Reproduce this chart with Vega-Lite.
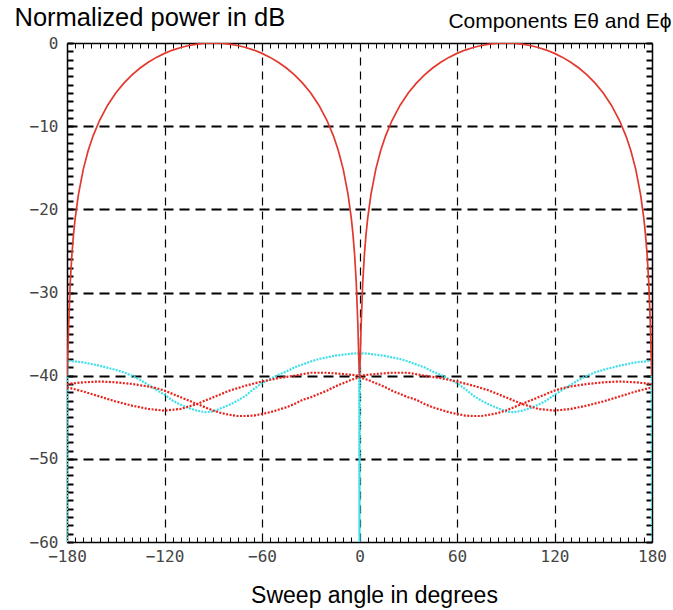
{
  "$schema": "https://vega.github.io/schema/vega-lite/v6.json",
  "width": 585,
  "height": 499,
  "autosize": {"type": "none"},
  "padding": {"left": 67, "top": 43, "right": 21, "bottom": 68},
  "background": "white",
  "config": {"view": {"stroke": "black", "strokeWidth": 1}},
  "datasets": {
    "ephi": [
      {"a": -180, "v": -60}, {"a": -179.7, "v": -38.2}, {"a": -170, "v": -38.4}, {"a": -160, "v": -38.8}, {"a": -150, "v": -39.3}, {"a": -145, "v": -39.6}, {"a": -140, "v": -40.0}, {"a": -135, "v": -40.5}, {"a": -130, "v": -41.1}, {"a": -125, "v": -41.7}, {"a": -120, "v": -42.3}, {"a": -115, "v": -43.0}, {"a": -110, "v": -43.5}, {"a": -105, "v": -43.9}, {"a": -100, "v": -44.2}, {"a": -95, "v": -44.4}, {"a": -90, "v": -44.3}, {"a": -85, "v": -43.9}, {"a": -80, "v": -43.5}, {"a": -75, "v": -43.0}, {"a": -70, "v": -42.4}, {"a": -65, "v": -41.6}, {"a": -60, "v": -40.9}, {"a": -55, "v": -40.4}, {"a": -50, "v": -39.9}, {"a": -45, "v": -39.5}, {"a": -40, "v": -39.0}, {"a": -30, "v": -38.3}, {"a": -25, "v": -38.0}, {"a": -15, "v": -37.6}, {"a": -5, "v": -37.35}, {"a": -0.3, "v": -37.3}, {"a": 0, "v": -60},
      {"a": 0.3, "v": -37.3}, {"a": 5, "v": -37.35}, {"a": 15, "v": -37.6}, {"a": 25, "v": -38.0}, {"a": 30, "v": -38.3}, {"a": 40, "v": -39.0}, {"a": 45, "v": -39.5}, {"a": 50, "v": -39.9}, {"a": 55, "v": -40.4}, {"a": 60, "v": -40.9}, {"a": 65, "v": -41.6}, {"a": 70, "v": -42.4}, {"a": 75, "v": -43.0}, {"a": 80, "v": -43.5}, {"a": 85, "v": -43.9}, {"a": 90, "v": -44.3}, {"a": 95, "v": -44.4}, {"a": 100, "v": -44.2}, {"a": 105, "v": -43.9}, {"a": 110, "v": -43.5}, {"a": 115, "v": -43.0}, {"a": 120, "v": -42.3}, {"a": 125, "v": -41.7}, {"a": 130, "v": -41.1}, {"a": 135, "v": -40.5}, {"a": 140, "v": -40.0}, {"a": 145, "v": -39.6}, {"a": 150, "v": -39.3}, {"a": 160, "v": -38.8}, {"a": 170, "v": -38.4}, {"a": 179.7, "v": -38.2}, {"a": 180, "v": -60}
    ],
    "d1": [
      {"a": -180, "v": -41.0}, {"a": -170, "v": -40.8}, {"a": -160, "v": -40.7}, {"a": -150, "v": -40.8}, {"a": -140, "v": -41.0}, {"a": -130, "v": -41.3}, {"a": -125, "v": -41.5}, {"a": -120, "v": -41.8}, {"a": -115, "v": -42.2}, {"a": -110, "v": -42.6}, {"a": -105, "v": -43.0}, {"a": -100, "v": -43.4}, {"a": -95, "v": -43.8}, {"a": -90, "v": -44.2}, {"a": -85, "v": -44.5}, {"a": -80, "v": -44.7}, {"a": -75, "v": -44.85}, {"a": -70, "v": -44.85}, {"a": -65, "v": -44.8}, {"a": -60, "v": -44.6}, {"a": -55, "v": -44.4}, {"a": -50, "v": -44.1}, {"a": -45, "v": -43.8}, {"a": -40, "v": -43.4}, {"a": -35, "v": -42.9}, {"a": -30, "v": -42.6}, {"a": -25, "v": -42.2}, {"a": -20, "v": -41.8}, {"a": -15, "v": -41.3}, {"a": -10, "v": -40.9}, {"a": -5, "v": -40.5}, {"a": 0, "v": -40.2},
      {"a": 5, "v": -40.5}, {"a": 10, "v": -40.9}, {"a": 15, "v": -41.3}, {"a": 20, "v": -41.8}, {"a": 25, "v": -42.2}, {"a": 30, "v": -42.6}, {"a": 35, "v": -42.9}, {"a": 40, "v": -43.4}, {"a": 45, "v": -43.8}, {"a": 50, "v": -44.1}, {"a": 55, "v": -44.4}, {"a": 60, "v": -44.6}, {"a": 65, "v": -44.8}, {"a": 70, "v": -44.85}, {"a": 75, "v": -44.85}, {"a": 80, "v": -44.7}, {"a": 85, "v": -44.5}, {"a": 90, "v": -44.2}, {"a": 95, "v": -43.8}, {"a": 100, "v": -43.4}, {"a": 105, "v": -43.0}, {"a": 110, "v": -42.6}, {"a": 115, "v": -42.2}, {"a": 120, "v": -41.8}, {"a": 125, "v": -41.5}, {"a": 130, "v": -41.3}, {"a": 140, "v": -41.0}, {"a": 150, "v": -40.8}, {"a": 160, "v": -40.7}, {"a": 170, "v": -40.8}, {"a": 180, "v": -41.0}
    ],
    "d2": [
      {"a": -180, "v": -41.4}, {"a": -170, "v": -41.9}, {"a": -160, "v": -42.5}, {"a": -150, "v": -43.1}, {"a": -140, "v": -43.6}, {"a": -130, "v": -44.0}, {"a": -120, "v": -44.2}, {"a": -110, "v": -44.0}, {"a": -100, "v": -43.4}, {"a": -90, "v": -42.6}, {"a": -80, "v": -41.8}, {"a": -70, "v": -41.2}, {"a": -60, "v": -40.7}, {"a": -50, "v": -40.3}, {"a": -40, "v": -40.0}, {"a": -30, "v": -39.65}, {"a": -20, "v": -39.65}, {"a": -10, "v": -39.8}, {"a": 0, "v": -40.0},
      {"a": 10, "v": -39.8}, {"a": 20, "v": -39.65}, {"a": 30, "v": -39.65}, {"a": 40, "v": -40.0}, {"a": 50, "v": -40.3}, {"a": 60, "v": -40.7}, {"a": 70, "v": -41.2}, {"a": 80, "v": -41.8}, {"a": 90, "v": -42.6}, {"a": 100, "v": -43.4}, {"a": 110, "v": -44.0}, {"a": 120, "v": -44.2}, {"a": 130, "v": -44.0}, {"a": 140, "v": -43.6}, {"a": 150, "v": -43.1}, {"a": 160, "v": -42.5}, {"a": 170, "v": -41.9}, {"a": 180, "v": -41.4}
    ],
    "eth": [
      {"a": -180, "v": -40}, {"a": -179.5, "v": -37.54}, {"a": -179, "v": -33.93}, {"a": -178, "v": -28.8}, {"a": -177, "v": -25.47}, {"a": -176, "v": -23.04}, {"a": -175, "v": -21.14}, {"a": -173, "v": -18.25}, {"a": -170, "v": -15.19}, {"a": -167, "v": -12.95}, {"a": -164, "v": -11.19}, {"a": -160, "v": -9.32}, {"a": -155, "v": -7.48}, {"a": -150, "v": -6.02}, {"a": -145, "v": -4.83}, {"a": -140, "v": -3.84}, {"a": -135, "v": -3.01}, {"a": -130, "v": -2.31}, {"a": -125, "v": -1.73}, {"a": -120, "v": -1.25}, {"a": -115, "v": -0.85}, {"a": -110, "v": -0.54}, {"a": -105, "v": -0.3}, {"a": -100, "v": -0.13}, {"a": -95, "v": -0.03}, {"a": -90, "v": 0}, {"a": -85, "v": -0.03}, {"a": -80, "v": -0.13}, {"a": -75, "v": -0.3}, {"a": -70, "v": -0.54}, {"a": -65, "v": -0.85}, {"a": -60, "v": -1.25}, {"a": -55, "v": -1.73}, {"a": -50, "v": -2.31}, {"a": -45, "v": -3.01}, {"a": -40, "v": -3.84}, {"a": -35, "v": -4.83}, {"a": -30, "v": -6.02}, {"a": -25, "v": -7.48}, {"a": -20, "v": -9.32}, {"a": -16, "v": -11.19}, {"a": -13, "v": -12.95}, {"a": -10, "v": -15.19}, {"a": -7, "v": -18.25}, {"a": -5, "v": -21.14}, {"a": -4, "v": -23.04}, {"a": -3, "v": -25.47}, {"a": -2, "v": -28.8}, {"a": -1, "v": -33.93}, {"a": -0.5, "v": -37.54}, {"a": 0, "v": -40},
      {"a": 0.5, "v": -37.54}, {"a": 1, "v": -33.93}, {"a": 2, "v": -28.8}, {"a": 3, "v": -25.47}, {"a": 4, "v": -23.04}, {"a": 5, "v": -21.14}, {"a": 7, "v": -18.25}, {"a": 10, "v": -15.19}, {"a": 13, "v": -12.95}, {"a": 16, "v": -11.19}, {"a": 20, "v": -9.32}, {"a": 25, "v": -7.48}, {"a": 30, "v": -6.02}, {"a": 35, "v": -4.83}, {"a": 40, "v": -3.84}, {"a": 45, "v": -3.01}, {"a": 50, "v": -2.31}, {"a": 55, "v": -1.73}, {"a": 60, "v": -1.25}, {"a": 65, "v": -0.85}, {"a": 70, "v": -0.54}, {"a": 75, "v": -0.3}, {"a": 80, "v": -0.13}, {"a": 85, "v": -0.03}, {"a": 90, "v": 0}, {"a": 95, "v": -0.03}, {"a": 100, "v": -0.13}, {"a": 105, "v": -0.3}, {"a": 110, "v": -0.54}, {"a": 115, "v": -0.85}, {"a": 120, "v": -1.25}, {"a": 125, "v": -1.73}, {"a": 130, "v": -2.31}, {"a": 135, "v": -3.01}, {"a": 140, "v": -3.84}, {"a": 145, "v": -4.83}, {"a": 150, "v": -6.02}, {"a": 155, "v": -7.48}, {"a": 160, "v": -9.32}, {"a": 164, "v": -11.19}, {"a": 167, "v": -12.95}, {"a": 170, "v": -15.19}, {"a": 173, "v": -18.25}, {"a": 175, "v": -21.14}, {"a": 176, "v": -23.04}, {"a": 177, "v": -25.47}, {"a": 178, "v": -28.8}, {"a": 179, "v": -33.93}, {"a": 179.5, "v": -37.54}, {"a": 180, "v": -40}
    ]
  },
  "resolve": {"axis": {"x": "independent", "y": "independent"}},
  "layer": [
    {
      "data": {"name": "ephi"},
      "mark": {"type": "line", "color": "#3fdfe9", "strokeWidth": 2.2, "strokeDash": [2, 1.2], "clip": true},
      "encoding": {
        "x": {"field": "a", "type": "quantitative", "scale": {"domain": [-180, 180], "nice": false, "zero": false},
          "axis": {
            "values": [-180,-175,-170,-165,-160,-155,-150,-145,-140,-135,-130,-125,-120,-115,-110,-105,-100,-95,-90,-85,-80,-75,-70,-65,-60,-55,-50,-45,-40,-35,-30,-25,-20,-15,-10,-5,0,5,10,15,20,25,30,35,40,45,50,55,60,65,70,75,80,85,90,95,100,105,110,115,120,125,130,135,140,145,150,155,160,165,170,175,180],
            "labelExpr": "datum.value % 60 === 0 ? datum.label : ''",
            "labelFont": "DejaVu Sans Mono", "labelFontSize": 16, "labelColor": "#444444",
            "labelPadding": 11, "labelFlush": false, "labelOverlap": false, "labelBound": false,
            "tickSize": -5, "tickColor": "black", "tickWidth": 1,
            "domainColor": "black", "domainWidth": 1.5,
            "grid": true, "gridColor": "black", "gridDash": [8, 6], "gridWidth": 1.2,
            "gridOpacity": {"condition": {"test": "datum.value % 60 === 0 && abs(datum.value) < 180", "value": 1}, "value": 0},
            "title": "Sweep angle in degrees", "titleFont": "Liberation Sans", "titleFontSize": 23, "titleFontWeight": "normal", "titleColor": "black",
            "titleX": 307, "titleY": 60, "titleAlign": "center", "titleBaseline": "alphabetic"
          }
        },
        "y": {"field": "v", "type": "quantitative", "scale": {"domain": [-60, 0], "nice": false, "zero": false, "clamp": true},
          "axis": {
            "values": [-60,-59,-58,-57,-56,-55,-54,-53,-52,-51,-50,-49,-48,-47,-46,-45,-44,-43,-42,-41,-40,-39,-38,-37,-36,-35,-34,-33,-32,-31,-30,-29,-28,-27,-26,-25,-24,-23,-22,-21,-20,-19,-18,-17,-16,-15,-14,-13,-12,-11,-10,-9,-8,-7,-6,-5,-4,-3,-2,-1,0],
            "labelExpr": "datum.value % 10 === 0 ? datum.label : ''",
            "labelFont": "DejaVu Sans Mono", "labelFontSize": 16, "labelColor": "#444444",
            "labelPadding": 15, "labelFlush": false, "labelOverlap": false, "labelBound": false,
            "tickSize": -6, "tickColor": "black", "tickWidth": 2,
            "domainColor": "black", "domainWidth": 1.5,
            "grid": true, "gridColor": "black", "gridDash": [10, 6], "gridWidth": 2,
            "gridOpacity": {"condition": {"test": "datum.value % 10 === 0 && datum.value > -60 && datum.value < 0", "value": 1}, "value": 0},
            "title": "Normalized power in dB", "titleFont": "Liberation Sans", "titleFontSize": 25.5, "titleFontWeight": "normal", "titleColor": "black",
            "titleAngle": 0, "titleX": -53, "titleY": -18, "titleAlign": "left", "titleBaseline": "alphabetic"
          }
        }
      }
    },
    {
      "data": {"name": "d1"},
      "mark": {"type": "line", "color": "#e8231d", "strokeWidth": 2.2, "strokeDash": [2, 1.5], "clip": true},
      "encoding": {
        "x": {"field": "a", "type": "quantitative", "axis": null},
        "y": {"field": "v", "type": "quantitative", "axis": null}
      }
    },
    {
      "data": {"name": "d2"},
      "mark": {"type": "line", "color": "#e8231d", "strokeWidth": 2.2, "strokeDash": [2, 1.5], "clip": true},
      "encoding": {
        "x": {"field": "a", "type": "quantitative", "axis": null},
        "y": {"field": "v", "type": "quantitative", "axis": null}
      }
    },
    {
      "data": {"name": "eth"},
      "mark": {"type": "line", "color": "#e2382d", "strokeWidth": 1.7, "clip": true},
      "encoding": {
        "x": {"field": "a", "type": "quantitative",
          "axis": {"orient": "top", "values": [-180,-175,-170,-165,-160,-155,-150,-145,-140,-135,-130,-125,-120,-115,-110,-105,-100,-95,-90,-85,-80,-75,-70,-65,-60,-55,-50,-45,-40,-35,-30,-25,-20,-15,-10,-5,0,5,10,15,20,25,30,35,40,45,50,55,60,65,70,75,80,85,90,95,100,105,110,115,120,125,130,135,140,145,150,155,160,165,170,175,180],
            "labels": false, "grid": false, "title": null, "tickSize": -5, "tickColor": "black", "tickWidth": 1, "domainColor": "black", "domainWidth": 1.5}
        },
        "y": {"field": "v", "type": "quantitative",
          "axis": {"orient": "right", "values": [-60,-59,-58,-57,-56,-55,-54,-53,-52,-51,-50,-49,-48,-47,-46,-45,-44,-43,-42,-41,-40,-39,-38,-37,-36,-35,-34,-33,-32,-31,-30,-29,-28,-27,-26,-25,-24,-23,-22,-21,-20,-19,-18,-17,-16,-15,-14,-13,-12,-11,-10,-9,-8,-7,-6,-5,-4,-3,-2,-1,0],
            "labels": false, "grid": false, "tickSize": -6, "tickColor": "black", "tickWidth": 2, "domainColor": "black", "domainWidth": 1.5,
            "title": "Components Eθ and Eϕ", "titleFont": "Liberation Sans", "titleFontSize": 21, "titleFontWeight": "normal", "titleColor": "black",
            "titleAngle": 0, "titleX": 19, "titleY": -16, "titleAlign": "right", "titleBaseline": "alphabetic"}
        }
      }
    }
  ]
}
